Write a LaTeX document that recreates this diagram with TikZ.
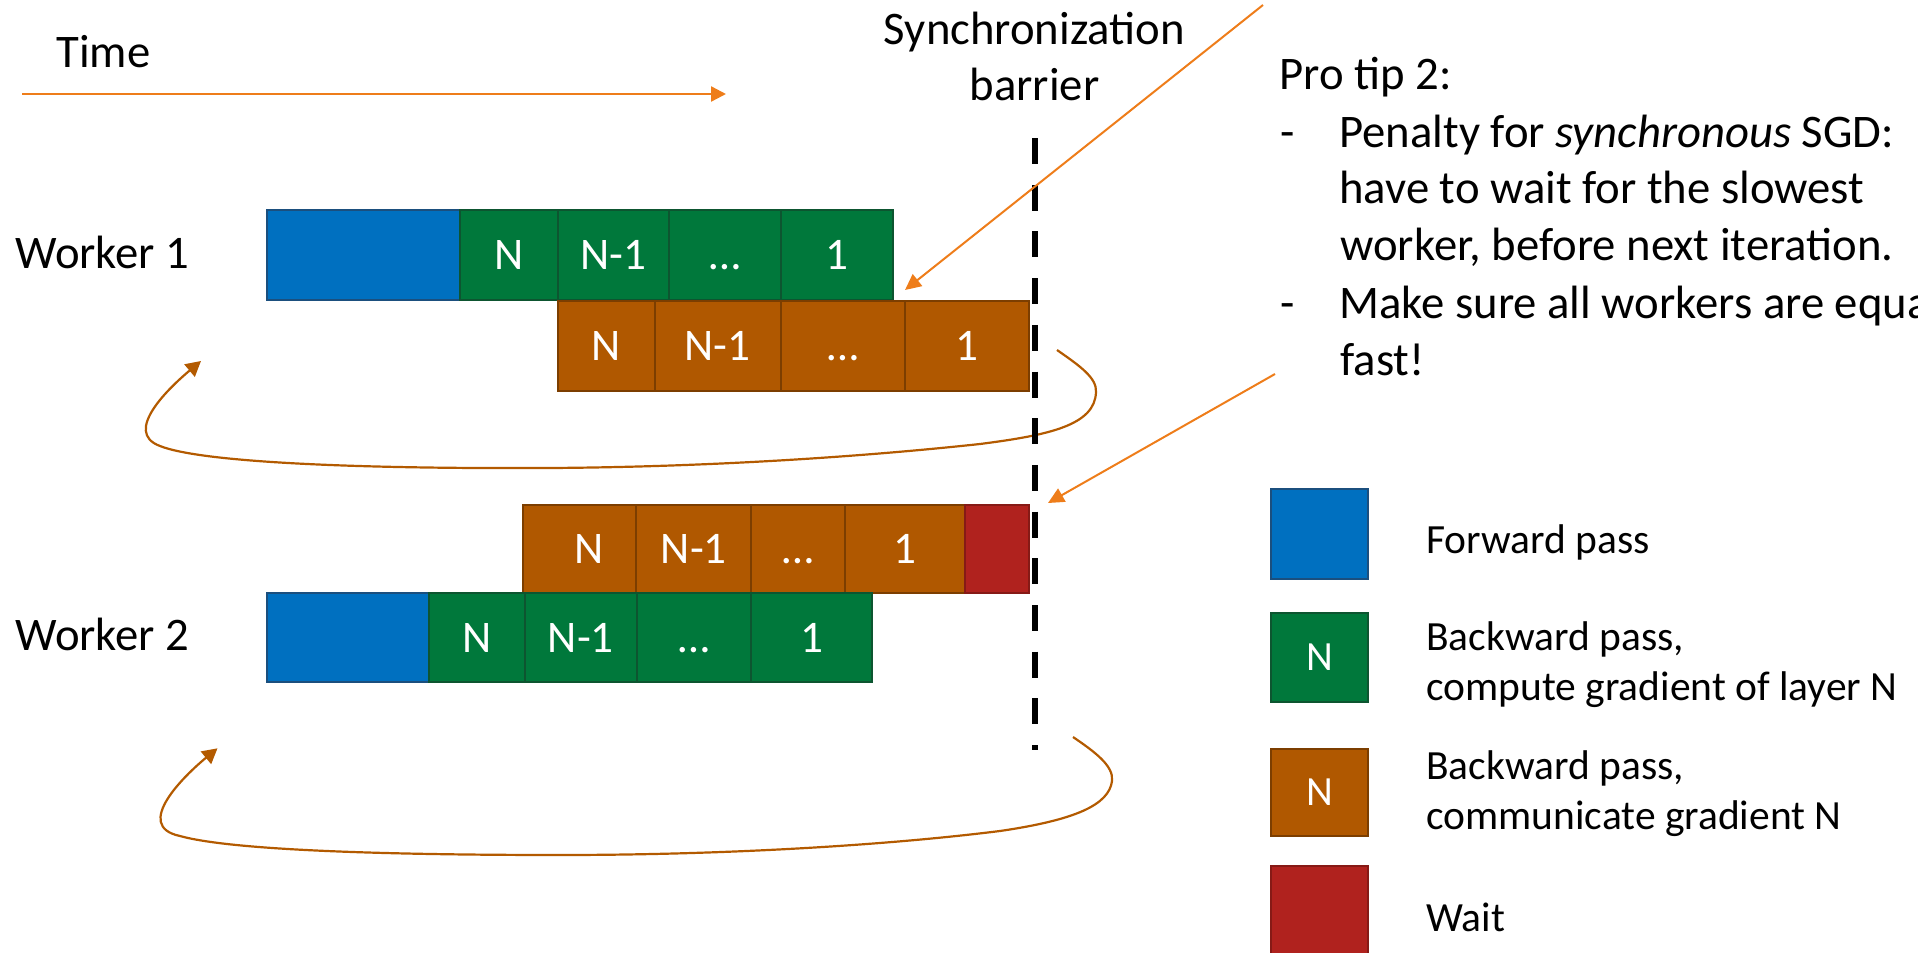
\documentclass[tikz,border=0pt]{standalone}
\usepackage{fontspec}
\setmainfont{Carlito}
\usetikzlibrary{arrows.meta}

\definecolor{fwdfill}{HTML}{0070C0}
\definecolor{fwdline}{HTML}{1B4F7E}
\definecolor{cmpfill}{HTML}{00783B}
\definecolor{cmpline}{HTML}{0D5530}
\definecolor{comfill}{HTML}{B05800}
\definecolor{comline}{HTML}{7C3E00}
\definecolor{waitfill}{HTML}{B0221E}
\definecolor{waitline}{HTML}{861A16}
\definecolor{hint}{HTML}{EE7D1A}
\definecolor{loopc}{HTML}{B35A00}

\newcommand\bigtxt{\fontsize{23.35pt}{28.3pt}\selectfont}
\newcommand\legtxt{\fontsize{20.75pt}{25pt}\selectfont}
\newcommand\celltxt{\fontsize{22.6pt}{27pt}\selectfont}

% one coloured box: style, name, x1, x2, y1, y2, text
\newcommand\cellbox[7]{\node[#1, minimum width={(#4-#3)*0.5pt}, minimum height={(#6-#5)*0.5pt}] (#2) at ({(#3+#4)/2},{(#5+#6)/2}) {#7};}

\tikzset{
  cell/.style={draw, line width=1pt, inner sep=0pt, text=white, font=\celltxt, text height=14.6pt, text depth=0pt},
  fwdcell/.style={cell, fill=fwdfill, draw=fwdline},
  cmpcell/.style={cell, fill=cmpfill, draw=cmpline},
  comcell/.style={cell, fill=comfill, draw=comline},
  waitcell/.style={cell, fill=waitfill, draw=waitline},
  legcmp/.style={cmpcell, font=\legtxt, text height=13.4pt},
  legcom/.style={comcell, font=\legtxt, text height=13.4pt},
  lbl/.style={anchor=base west, inner sep=0pt, font=\bigtxt},
  lblc/.style={anchor=base, inner sep=0pt, font=\bigtxt},
  leg/.style={anchor=base west, inner sep=0pt, font=\legtxt},
  timearrow/.style={draw=hint, line width=1.2pt, -{Triangle[length=7.5pt,width=7.5pt]}},
  hintarrow/.style={draw=hint, line width=1pt, -{Triangle[length=8pt,width=7.5pt]}},
  loopline/.style={draw=loopc, line width=1.1pt, -{Triangle[length=7.5pt,width=8pt]}},
  barrier/.style={draw=black, line width=3pt, dash pattern=on 13pt off 10.35pt}
}

\begin{document}
\begin{tikzpicture}[x=0.5pt, y=-0.5pt]
\useasboundingbox (0,0) rectangle (1918,953);
\clip (0,0) rectangle (1918,953);

% time axis
\node[lbl] (time) at (56,68) {Time};
\coordinate (t0) at (22,94);
\coordinate (t1) at (726,94);
\draw[timearrow] (t0) -- (t1);

% barrier caption
\node[lblc] (sync1) at (1034.5,44) {Synchronization};
\node[lblc] (sync2) at (1034.5,100) {barrier};

% worker labels
\node[lbl] (w1) at (15,268) {Worker 1};
\node[lbl] (w2) at (15,650.5) {Worker 2};

% worker 1: forward + backward compute
\cellbox{fwdcell}{w1f}{266.5}{460}{210}{300}{}
\cellbox{cmpcell}{w1c1}{460}{557.7}{210}{300}{N}
\cellbox{cmpcell}{w1c2}{557.7}{668.5}{210}{300}{N-1}
\cellbox{cmpcell}{w1c3}{668.5}{780.8}{210}{300}{…}
\cellbox{cmpcell}{w1c4}{780.8}{893}{210}{300}{1}
% worker 1: communication
\cellbox{comcell}{w1m1}{557.7}{654.5}{301}{391}{N}
\cellbox{comcell}{w1m2}{654.5}{780.8}{301}{391}{N-1}
\cellbox{comcell}{w1m3}{780.8}{905}{301}{391}{…}
\cellbox{comcell}{w1m4}{905}{1029}{301}{391}{1}

% worker 2: communication + wait
\cellbox{comcell}{w2m1}{523.3}{636.3}{505}{593.3}{\hspace*{8.8pt}N}
\cellbox{comcell}{w2m2}{636.3}{751.3}{505}{593.3}{N-1}
\cellbox{comcell}{w2m3}{751.3}{844.6}{505}{593.3}{…}
\cellbox{comcell}{w2m4}{844.6}{965.3}{505}{593.3}{1}
\cellbox{waitcell}{w2w}{965.3}{1029}{505}{593.3}{}
% worker 2: forward + backward compute
\cellbox{fwdcell}{w2f}{266.6}{428.6}{593.3}{682.3}{}
\cellbox{cmpcell}{w2c1}{428.6}{524.7}{593.3}{682.3}{N}
\cellbox{cmpcell}{w2c2}{524.7}{637}{593.3}{682.3}{N-1}
\cellbox{cmpcell}{w2c3}{637}{751.3}{593.3}{682.3}{…}
\cellbox{cmpcell}{w2c4}{751.3}{872}{593.3}{682.3}{1}

% loops back to the next iteration
\coordinate (l1s) at (1057,350);
\coordinate (l1e) at (201,361);
\draw[loopline] (l1s) .. controls (1080,366) and (1097,378) .. (1096,392)
  .. controls (1095,425) and (1050,435) .. (980,444)
  .. controls (850,458) and (700,467) .. (550,468)
  .. controls (350,469) and (200,462) .. (160,446)
  .. controls (122,432) and (170,387) .. (l1e);

\coordinate (l2s) at (1073,737);
\coordinate (l2e) at (217.5,748.3);
\draw[loopline] (l2s) .. controls (1095,752) and (1114,766) .. (1112,781)
  .. controls (1109,805) and (1075,820) .. (1000,831)
  .. controls (880,846) and (720,855) .. (560,855)
  .. controls (380,855) and (230,850) .. (180,836)
  .. controls (132,826) and (185,775) .. (l2e);

% synchronization barrier
\coordinate (b0) at (1035,138);
\coordinate (b1) at (1035,750);
\draw[barrier] (b0) -- (b1);

% pointers from the tip text
\coordinate (a1s) at (1263,5);
\coordinate (a1e) at (905,290);
\draw[hintarrow] (a1s) -- (a1e);
\coordinate (a2s) at (1275,374);
\coordinate (a2e) at (1048,503);
\draw[hintarrow] (a2s) -- (a2e);

% tip text
\node[lbl] (tip0) at (1279,89.3) {Pro tip 2:};
\node[lbl] (tipd1) at (1280,147.3) {-};
\node[lbl] (tip1) at (1339,147.3) {Penalty for \textit{synchronous} SGD:};
\node[lbl] (tip2) at (1339,203.3) {have to wait for the slowest};
\node[lbl] (tip3) at (1340,260.7) {worker, before next iteration.};
\node[lbl] (tipd2) at (1280,318.3) {-};
\node[lbl] (tip4) at (1339,318.3) {Make sure all workers are equally};
\node[lbl] (tip5) at (1340,375) {fast!};

% legend
\cellbox{fwdcell}{legf}{1271.3}{1368.4}{489.3}{579.3}{}
\cellbox{legcmp}{legc}{1271.3}{1368.4}{612.7}{702.3}{N}
\cellbox{legcom}{legm}{1271.3}{1368.4}{749}{836}{N}
\cellbox{waitcell}{legw}{1271.3}{1368.4}{866}{975}{}
\node[leg] (legt1) at (1426,553.3) {Forward pass};
\node[leg] (legt2) at (1426,650) {Backward pass,};
\node[leg] (legt3) at (1426,700) {compute gradient of layer N};
\node[leg] (legt4) at (1426,779) {Backward pass,};
\node[leg] (legt5) at (1426,829) {communicate gradient N};
\node[leg] (legt6) at (1426,931) {Wait};
\end{tikzpicture}
\end{document}
